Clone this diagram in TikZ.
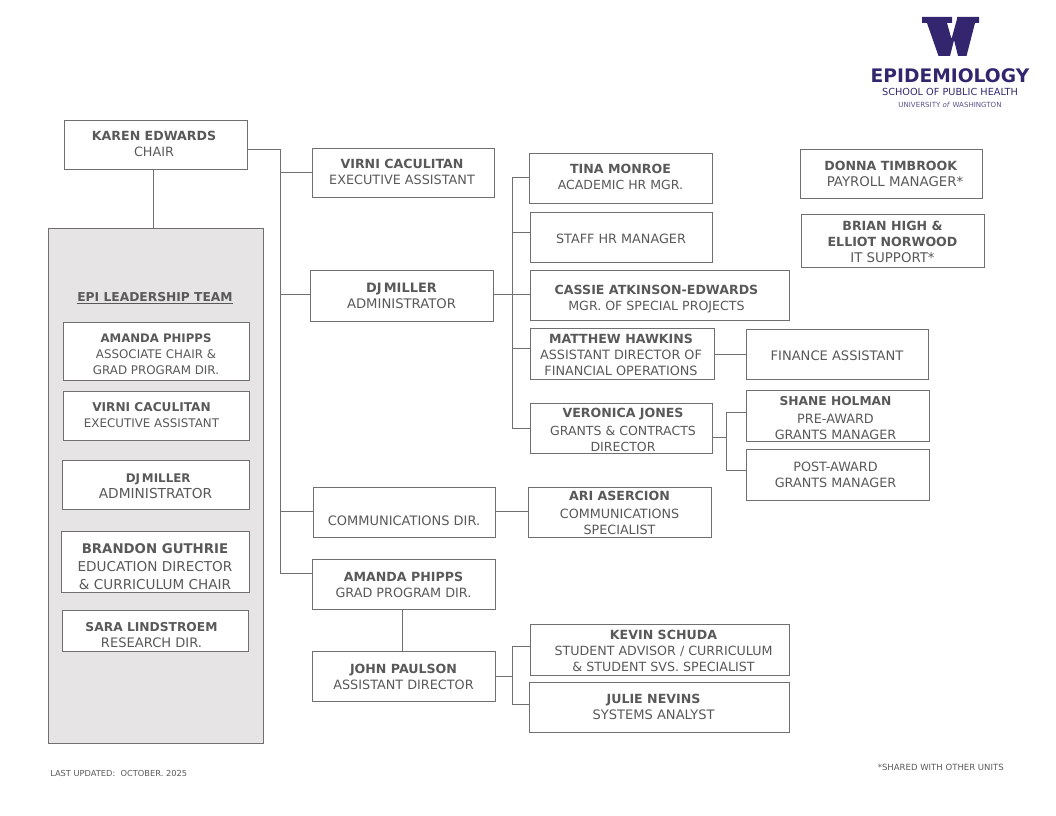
\documentclass[tikz,border=0pt]{standalone}
\usepackage{fontspec}
\setmainfont{DejaVu Sans}
\definecolor{ink}{HTML}{595959}
\definecolor{rule}{HTML}{707070}
\definecolor{panel}{HTML}{E6E4E5}
\definecolor{uw}{HTML}{33266E}
\tikzset{
  box/.style={draw=rule,line width=0.7pt,fill=white,inner sep=0pt,text=ink},
  conn/.style={draw=rule,line width=0.7pt},
  plain/.style={inner sep=0pt,text=ink}
}
\newcommand{\nm}[2][9.45]{\textbf{\fontsize{#1}{12}\selectfont #2}}
% [font size], name, x1,y1,x2,y2, text centre x offset, text centre y, lines
\newcommand{\bx}[9][9.6]{\bxi{#1}{#2}{#3}{#4}{#5}{#6}{#7}{#8}{#9}}
\newcommand{\bxi}[9]{%
  \pgfmathsetlengthmacro{\rs}{((#4+#6)/2-#8-6)*0.75pt}%
  \pgfmathsetlengthmacro{\hs}{abs(#7)*1.5pt}%
  \pgfmathsetlengthmacro{\bw}{(#5-#3)*0.75pt}%
  \pgfmathsetlengthmacro{\bh}{(#6-#4)*0.75pt}%
  \node[box,minimum width=\bw,minimum height=\bh] (#2) at ({(#3+#5)/2},{(#4+#6)/2})
  {\fontsize{#1}{12}\selectfont\ifdim #7pt<0pt\makebox[0pt]{\raisebox{\rs}[0pt][0pt]{\makebox[0pt]{\begin{tabular}[c]{@{}c@{}}#9\end{tabular}}}\hspace*{\hs}}\else\makebox[0pt]{\hspace*{\hs}\raisebox{\rs}[0pt][0pt]{\makebox[0pt]{\begin{tabular}[c]{@{}c@{}}#9\end{tabular}}}}\fi};%
}
\begin{document}
\begin{tikzpicture}[x=0.75pt,y=-0.75pt]
\useasboundingbox (0,0) rectangle (1056,816);
% panel
\node[box,fill=panel,minimum width=161.5pt,minimum height=386.25pt] (team) at (155.8,485.5) {};
\bx{chair}{64}{120}{247}{169}{-1.5}{143}{\nm{KAREN EDWARDS}\\CHAIR}
\bx{virni}{312}{148}{494}{197}{-1}{171}{\nm{VIRNI CACULITAN}\\EXECUTIVE ASSISTANT}
\bx[9.9]{dj}{310}{270}{493}{321}{0}{295}{\nm[9.7]{DJ\,MILLER}\\ADMINISTRATOR}
\bx[9.75]{comm}{313}{487}{495}{537}{0}{520}{COMMUNICATIONS DIR.}
\bx{phipps}{312}{559}{495}{609}{0}{584}{\nm{AMANDA PHIPPS}\\GRAD PROGRAM DIR.}
\bx{john}{312}{651}{495}{701}{0}{676}{\nm{JOHN PAULSON}\\ASSISTANT DIRECTOR}
\bx[9.4]{tina}{529}{153}{712}{203}{0}{175}{\nm{TINA MONROE}\\ACADEMIC HR MGR.}
\bx{staff}{530}{212}{712}{262}{0}{238}{STAFF HR MANAGER}
\bx[9.45]{cassie}{530}{270}{789}{320}{-3}{296}{\nm{CASSIE ATKINSON-EDWARDS}\\MGR. OF SPECIAL PROJECTS}
\bx{matthew}{530}{328}{714}{379}{-1}{354}{\nm{MATTHEW HAWKINS}\\ASSISTANT DIRECTOR OF\\FINANCIAL OPERATIONS}
\bx[9.4]{veronica}{530}{403}{712}{453}{2}{428}{\nm{VERONICA JONES}\\[1.5pt]GRANTS \& CONTRACTS\\DIRECTOR}
\bx[9.8]{finance}{746}{329}{928}{379}{0}{355}{FINANCE ASSISTANT}
\bx{shane}{746}{390}{929}{441}{-2}{417}{\nm[9.2]{SHANE HOLMAN}\\[1.5pt]PRE-AWARD\\GRANTS MANAGER}
\bx{post}{746}{449}{929}{500}{-2}{474}{POST-AWARD\\GRANTS MANAGER}
\bx[9.55]{ari}{528}{487}{711}{537}{0}{512}{\nm{ARI ASERCION}\\[1.5pt]COMMUNICATIONS\\SPECIALIST}
\bx[10]{donna}{800}{149}{982}{198}{0}{173}{\nm{DONNA TIMBROOK}\\\hspace*{6pt}PAYROLL MANAGER*}
\bx[10]{brian}{801}{214}{984}{267}{0}{241}{\nm{BRIAN HIGH \&}\\\nm{ELLIOT NORWOOD}\\IT SUPPORT*}
\bx[9.5]{kevin}{530}{624}{789}{675}{4}{649}{\nm{KEVIN SCHUDA}\\STUDENT ADVISOR / CURRICULUM\\\& STUDENT SVS. SPECIALIST}
\bx[9.8]{julie}{529}{682}{789}{732}{-5.5}{706}{\nm{JULIE NEVINS}\\SYSTEMS ANALYST}
% leadership panel
\node[plain,font=\fontsize{9.2}{12}\selectfont\bfseries] (teamtitle) at (155,298) {\underline{EPI LEADERSHIP TEAM}};
\bx[8.9]{lamanda}{63}{322}{249}{380}{0}{352}{\nm[8.8]{AMANDA PHIPPS}\\ASSOCIATE CHAIR \&\\GRAD PROGRAM DIR.}
\bx[8.9]{lvirni}{63}{391}{249}{440}{-4.5}{413}{\nm[9.1]{VIRNI CACULITAN}\\EXECUTIVE ASSISTANT}
\bx[10.3]{ldj}{62}{460}{249}{509}{0}{485}{\hspace*{4pt}\nm[8.9]{DJ\,MILLER}\\ADMINISTRATOR}
\bx[10.2]{lbrandon}{61}{531}{249}{592}{0}{566}{\nm[10]{BRANDON GUTHRIE}\\[1.5pt]EDUCATION DIRECTOR\\[1.5pt]\& CURRICULUM CHAIR}
\bx[9.8]{lsara}{62}{610}{248}{651}{-3.5}{634}{\nm[9.2]{SARA LINDSTROEM}\\RESEARCH DIR.}
% junction coordinates
\coordinate (s1) at (280,149);
\coordinate (s2) at (280,172);
\coordinate (s3) at (280,294);
\coordinate (s4) at (280,511);
\coordinate (s5) at (280,573);
\coordinate (a1) at (512,177);
\coordinate (a2) at (512,232);
\coordinate (a3) at (512,294);
\coordinate (a4) at (512,348);
\coordinate (a5) at (512,428);
\coordinate (b1) at (726,412);
\coordinate (b2) at (726,437);
\coordinate (b3) at (726,470);
\coordinate (c1) at (512,646);
\coordinate (c2) at (512,676);
\coordinate (c3) at (512,704);
\coordinate (d1) at (153,169);
\coordinate (e1) at (402,609);
\coordinate (f1) at (730,354);
\coordinate (g1) at (510,511);
% connectors
\draw[conn] (chair.east |- s1) -- (s1) -- (s5) -- (phipps.west |- s5);
\draw[conn] (s2) -- (virni.west |- s2);
\draw[conn] (s3) -- (dj.west |- s3);
\draw[conn] (s4) -- (comm.west |- s4);
\draw[conn] (chair.south -| d1) -- (team.north -| d1);
\draw[conn] (phipps.south -| e1) -- (john.north -| e1);
\draw[conn] (dj.east |- a3) -- (cassie.west |- a3);
\draw[conn] (tina.west |- a1) -- (a1) -- (a5) -- (veronica.west |- a5);
\draw[conn] (a2) -- (staff.west |- a2);
\draw[conn] (a4) -- (matthew.west |- a4);
\draw[conn] (matthew.east |- f1) -- (finance.west |- f1);
\draw[conn] (shane.west |- b1) -- (b1) -- (b3) -- (post.west |- b3);
\draw[conn] (veronica.east |- b2) -- (b2);
\draw[conn] (comm.east |- g1) -- (ari.west |- g1);
\draw[conn] (kevin.west |- c1) -- (c1) -- (c3) -- (julie.west |- c3);
\draw[conn] (john.east |- c2) -- (c2);
% footers
\node[plain,anchor=west,font=\fontsize{6.2}{8}\selectfont] (updated) at (50,773.5) {LAST UPDATED:\ \ OCTOBER. 2025};
\node[plain,anchor=east,font=\fontsize{6.4}{8}\selectfont] (shared) at (1004,767.5) {*SHARED WITH OTHER UNITS};
% logo
\fill[uw] (922,17) -- (952,17) -- (952,23) -- (947,23) -- (951.5,39) -- (957,19) -- (957,17) -- (979,17) -- (979,23) -- (975,23) -- (966.5,56) -- (958,56) -- (954,40) -- (950,56) -- (938.5,56) -- (927,23) -- (922,23) -- cycle;
\node[inner sep=0pt,text=uw,font=\bfseries\fontsize{14}{16}\selectfont] (logoa) at (950,75.5) {EPIDEMIOLOGY};
\node[inner sep=0pt,text=uw,font=\fontsize{7.3}{8}\selectfont] (logob) at (950,92) {SCHOOL OF PUBLIC HEALTH};
\node[inner sep=0pt,text=uw!80,font=\fontsize{5.3}{6}\selectfont] (logoc) at (950,104.5) {UNIVERSITY \textit{of} WASHINGTON};
\end{tikzpicture}
\end{document}
